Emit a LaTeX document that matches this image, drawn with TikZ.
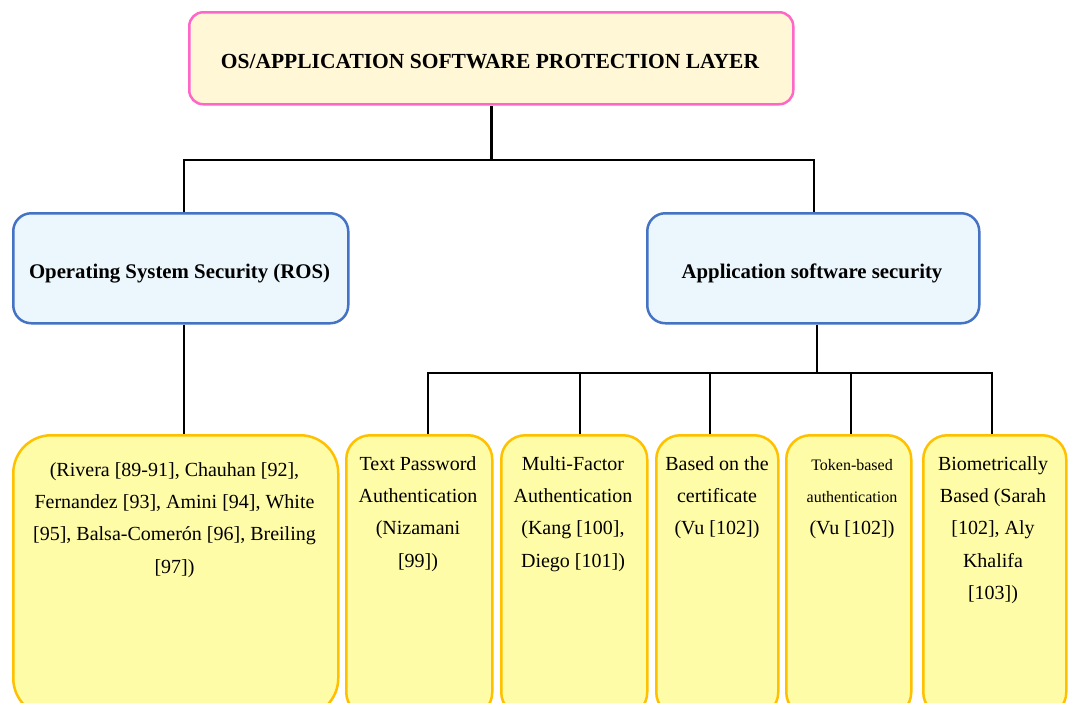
\documentclass[tikz,border=0pt]{standalone}
\usepackage{fontspec}
\setmainfont{Liberation Serif}
\definecolor{pinkline}{HTML}{FF66C8}
\definecolor{creamfill}{HTML}{FFF7D6}
\definecolor{blueline}{HTML}{4472C4}
\definecolor{bluefill}{HTML}{EBF7FD}
\definecolor{goldline}{HTML}{FFC000}
\definecolor{yellowfill}{HTML}{FFFCA8}
% fixed first-line height, so that a text block's top sits 15pt above its first baseline
\newcommand\firstlinestrut{\rule{0pt}{15pt}}
\tikzset{
  rootbox/.style={draw=pinkline, fill=creamfill, line width=2.5pt, rounded corners=14pt, anchor=north west, inner sep=0pt},
  midbox/.style={draw=blueline, fill=bluefill, line width=2.5pt, rounded corners=18pt, anchor=north west, inner sep=0pt},
  leafbox/.style={draw=goldline, fill=yellowfill, line width=2.5pt, rounded corners=24pt, anchor=north west, inner sep=0pt},
  headtext/.style={font=\fontsize{20.8}{26}\selectfont\bfseries, anchor=base, inner sep=0pt},
  leaftext/.style={font=\fontsize{20}{32.3}\selectfont, align=center, anchor=north, inner sep=0pt},
  conn/.style={draw=black, line width=2.7pt, line join=miter}
}
\begin{document}
\begin{tikzpicture}[x=1pt, y=-1pt]
\useasboundingbox (0,0) rectangle (1070,702);
\clip (0,0) rectangle (1070,702);

% top level
\node[rootbox, minimum width=604pt, minimum height=92pt] (root) at (188,11) {};
\node[headtext, font=\fontsize{21.5}{26}\selectfont\bfseries] (rootT) at (490,68) {OS/APPLICATION SOFTWARE PROTECTION LAYER};

% second level
\node[midbox, minimum width=335pt, minimum height=110pt] (ros) at (12,212) {};
\node[headtext] (rosT) at (179.5,278) {Operating System Security (ROS)};
\node[midbox, minimum width=332pt, minimum height=110pt] (app) at (646,212) {};
\node[headtext] (appT) at (812,278) {Application software security};

% leaves
\node[leafbox, rounded corners=38pt, minimum width=325pt, minimum height=281pt] (lit) at (12,434) {};
\node[leafbox, minimum width=146pt, minimum height=281pt] (pw) at (345,434) {};
\node[leafbox, minimum width=146pt, minimum height=281pt] (mfa) at (500,434) {};
\node[leafbox, minimum width=122pt, minimum height=281pt] (cert) at (655,434) {};
\node[leafbox, minimum width=125pt, minimum height=281pt] (tok) at (785,434) {};
\node[leafbox, minimum width=143pt, minimum height=281pt] (bio) at (922,434) {};

% leaf texts (top = first baseline - 15)
\node[leaftext] (litT) at (174.5,461) {\firstlinestrut(Rivera [89-91], Chauhan [92],\\ Fernandez [93], Amini [94], White\\ {}[95], Balsa-Comerón [96], Breiling\\ {}[97])};
\node[leaftext] (pwT) at (418,455) {\firstlinestrut Text Password\\ Authentication\\ (Nizamani\\ {}[99])};
\node[leaftext] (mfaT) at (573,455) {\firstlinestrut Multi-Factor\\ Authentication\\ (Kang [100],\\ Diego [101])};
\node[leaftext] (certT) at (717,455) {\firstlinestrut Based on the\\ certificate\\ (Vu [102])};
\node[leaftext] (tokT) at (852,455) {\firstlinestrut{\fontsize{16}{32.3}\selectfont Token-based}\\ {\fontsize{16}{32.3}\selectfont authentication}\\ (Vu [102])};
\node[leaftext] (bioT) at (993,455) {\firstlinestrut Biometrically\\ Based (Sarah\\ {}[102], Aly\\ Khalifa\\ {}[103])};

% connectors: root to second level
\coordinate (busA) at (490,160);
\coordinate (busAL) at (184,160);
\coordinate (busAR) at (814,160);
\draw[conn] (root.south) -- (root.south |- busA);
\draw[conn] (busAL |- ros.north) -- (busAL) -- (busAR) -- (busAR |- app.north);

% operating system branch
\draw[conn] (busAL |- ros.south) -- (busAL |- lit.north);

% application software branch
\coordinate (busB) at (817,373);
\coordinate (b1) at (428,373);
\coordinate (b2) at (580,373);
\coordinate (b3) at (710,373);
\coordinate (b4) at (851,373);
\coordinate (b5) at (992,373);
\draw[conn] (busB |- app.south) -- (busB);
\draw[conn] (b1 |- pw.north) -- (b1) -- (b5) -- (b5 |- bio.north);
\draw[conn] (b2) -- (b2 |- mfa.north);
\draw[conn] (b3) -- (b3 |- cert.north);
\draw[conn] (b4) -- (b4 |- tok.north);
\end{tikzpicture}
\end{document}
